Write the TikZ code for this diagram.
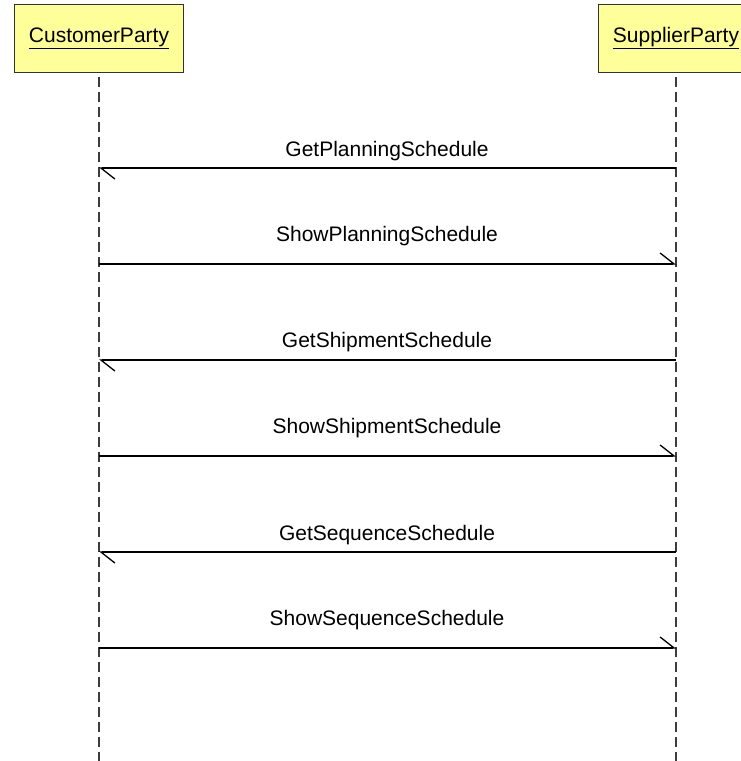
\documentclass[tikz,border=0pt]{standalone}
\usepackage{fontspec}
\setmainfont{Liberation Sans}
\usetikzlibrary{arrows.meta}

\definecolor{actorfill}{RGB}{255,255,153}
\definecolor{actorline}{RGB}{50,50,50}
\definecolor{lifeline}{RGB}{60,60,60}

\begin{document}
\begin{tikzpicture}[x=1pt,y=-1pt,
  actor/.style={draw=actorline, line width=1pt, fill=actorfill,
    minimum height=68pt, inner xsep=14.5pt, inner ysep=0pt,
    font=\fontsize{21}{24}\selectfont},
  lifeline/.style={draw=lifeline, line width=1.3pt, dash pattern=on 10pt off 5pt},
  msg/.style={draw=black, line width=1.3pt,
    -{Straight Barb[left, length=14pt, width=22pt, line width=1.3pt]}},
  msglabel/.style={font=\fontsize{21}{24}\selectfont, inner sep=0pt, anchor=base}
]
\useasboundingbox (0,0) rectangle (741,761);
\clip (0,0) rectangle (741,761);

% participants
\node[actor] (cust) at (99,38) {\underline{CustomerParty}};
\node[actor] (supp) at (676,38) {\underline{SupplierParty}};

% lifeline ends
\coordinate (custTop) at (99,77);
\coordinate (custEnd) at (99,761);
\coordinate (suppTop) at (676,77);
\coordinate (suppEnd) at (676,761);
\draw[lifeline] (custTop) -- (custEnd);
\draw[lifeline] (suppTop) -- (suppEnd);

% message anchor points on the lifelines
\foreach \i/\y in {1/168,2/264,3/360,4/456,5/552,6/648}{
  \coordinate (c\i) at (99,\y);
  \coordinate (s\i) at (676,\y);
}

% messages
\draw[msg] (s1) -- (c1);
\draw[msg] (c2) -- (s2);
\draw[msg] (s3) -- (c3);
\draw[msg] (c4) -- (s4);
\draw[msg] (s5) -- (c5);
\draw[msg] (c6) -- (s6);

% message labels
\node[msglabel] (m1) at (387,156) {GetPlanningSchedule};
\node[msglabel] (m2) at (387,241) {ShowPlanningSchedule};
\node[msglabel] (m3) at (387,347.5) {GetShipmentSchedule};
\node[msglabel] (m4) at (387,433) {ShowShipmentSchedule};
\node[msglabel] (m5) at (387,540) {GetSequenceSchedule};
\node[msglabel] (m6) at (387,625) {ShowSequenceSchedule};
\end{tikzpicture}
\end{document}
